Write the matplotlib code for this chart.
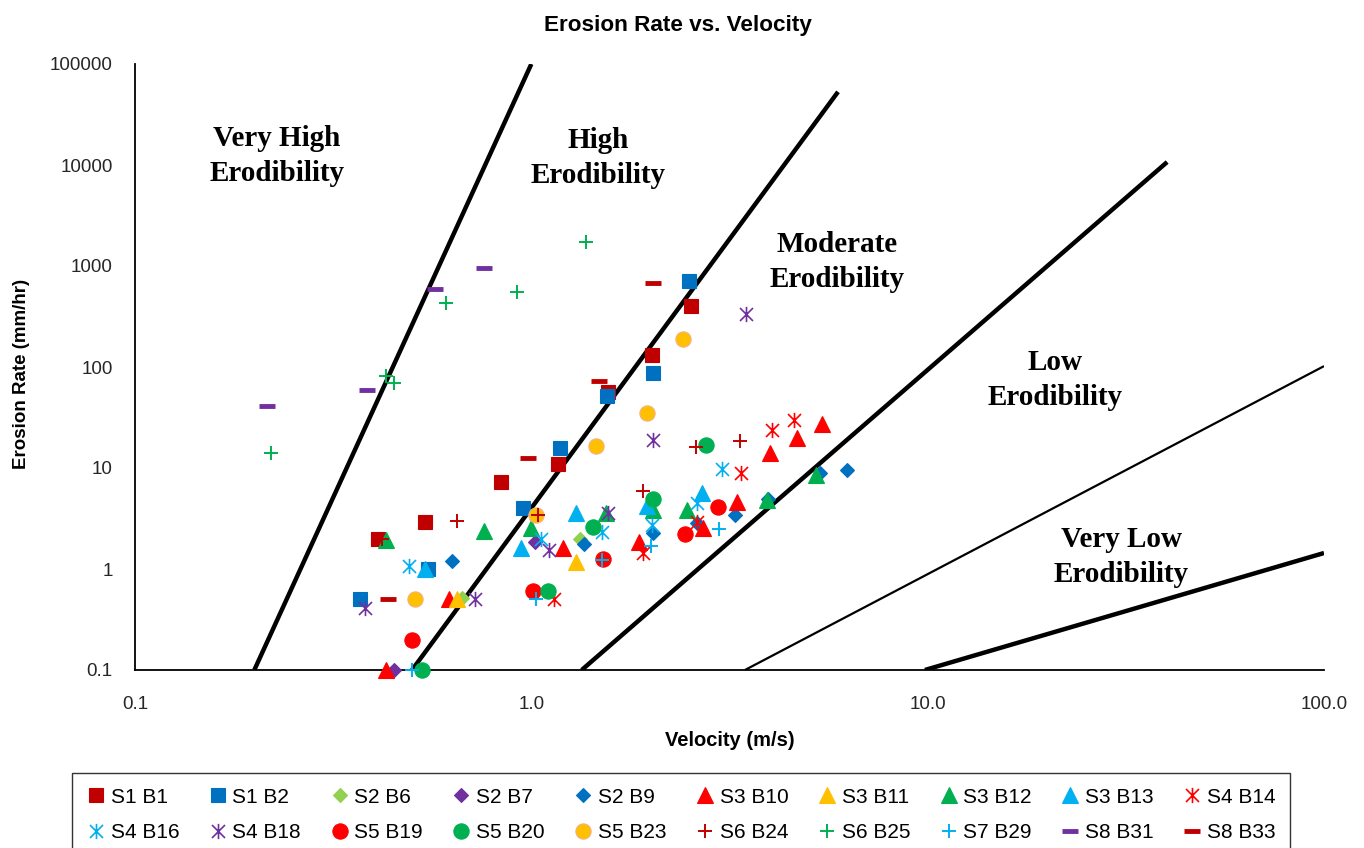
import matplotlib
matplotlib.use("Agg")
import matplotlib.pyplot as plt
from matplotlib.path import Path

plt.rcParams['font.family'] = ['Liberation Sans', 'DejaVu Sans']

# ---------------- data (velocity m/s, erosion rate mm/hr) ----------------
S1_B1_V = [0.41, 0.54, 0.84, 1.17, 1.56, 2.02, 2.53]
S1_B1_E = [2.0, 2.9, 7.2, 11, 56, 130, 400]
S1_B2_V = [0.37, 0.55, 0.95, 1.18, 1.55, 2.03, 2.5]
S1_B2_E = [0.5, 1.0, 4.0, 15.8, 52, 87, 710]
S2_B6_V = [0.67, 1.33]
S2_B6_E = [0.52, 2.0]
S2_B7_V = [0.45, 1.02]
S2_B7_E = [0.1, 1.85]
S2_B9_V = [0.63, 1.36, 2.03, 2.62, 3.27, 3.95, 5.35, 6.26]
S2_B9_E = [1.2, 1.75, 2.25, 2.85, 3.45, 4.9, 8.9, 9.5]
S3_B10_V = [0.43, 0.62, 1.2, 1.87, 2.71, 3.3, 4.0, 4.68, 5.4]
S3_B10_E = [0.1, 0.5, 1.6, 1.85, 2.55, 4.6, 14, 20, 27]
S3_B11_V = [0.65, 1.3]
S3_B11_E = [0.5, 1.17]
S3_B12_V = [0.43, 0.76, 1.0, 1.54, 2.03, 2.47, 3.94, 5.23]
S3_B12_E = [1.95, 2.4, 2.55, 3.6, 3.8, 3.85, 4.8, 8.5]
S3_B13_V = [0.54, 0.94, 1.3, 1.96, 2.7]
S3_B13_E = [1.0, 1.6, 3.6, 4.2, 5.6]
S4_B14_V = [1.14, 1.91, 2.62, 3.38, 4.05, 4.6]
S4_B14_E = [0.5, 1.45, 2.9, 8.9, 24, 30]
S4_B16_V = [0.49, 1.06, 1.51, 2.02, 2.62, 3.03]
S4_B16_E = [1.07, 2.0, 2.3, 2.7, 4.5, 9.8]
S4_B18_V = [0.38, 0.72, 1.11, 1.56, 2.03, 3.48]
S4_B18_E = [0.41, 0.5, 1.55, 3.6, 19, 335]
S5_B19_V = [0.5, 1.01, 1.52, 2.44, 2.96]
S5_B19_E = [0.2, 0.6, 1.25, 2.2, 4.1]
S5_B20_V = [0.53, 1.1, 1.43, 2.03, 2.76]
S5_B20_E = [0.1, 0.6, 2.6, 4.9, 17]
S5_B23_V = [0.51, 1.03, 1.46, 1.96, 2.42]
S5_B23_E = [0.5, 3.45, 16.5, 35, 190]
S6_B24_V = [0.42, 0.65, 1.04, 1.91, 2.6, 3.36]
S6_B24_E = [2.0, 3.0, 3.45, 5.9, 16, 18.5]
S6_B25_V = [0.22, 0.43, 0.45, 0.61, 0.92, 1.37]
S6_B25_E = [14, 81, 70, 430, 550, 1730]
S7_B29_V = [0.5, 1.03, 1.51, 2.0, 2.98]
S7_B29_E = [0.1, 0.5, 1.23, 1.7, 2.5]
S8_B31_V = [0.215, 0.385, 0.57, 0.76]
S8_B31_E = [41, 59, 590, 950]
S8_B33_V = [0.435, 0.98, 1.48, 2.03]
S8_B33_E = [0.5, 12.6, 72, 680]

SERIES_NAMES = ["S1 B1", "S1 B2", "S2 B6", "S2 B7", "S2 B9", "S3 B10", "S3 B11",
                "S3 B12", "S3 B13", "S4 B14", "S4 B16", "S4 B18", "S5 B19", "S5 B20",
                "S5 B23", "S6 B24", "S6 B25", "S7 B29", "S8 B31", "S8 B33"]
SERIES_V = [S1_B1_V, S1_B2_V, S2_B6_V, S2_B7_V, S2_B9_V, S3_B10_V, S3_B11_V,
            S3_B12_V, S3_B13_V, S4_B14_V, S4_B16_V, S4_B18_V, S5_B19_V, S5_B20_V,
            S5_B23_V, S6_B24_V, S6_B25_V, S7_B29_V, S8_B31_V, S8_B33_V]
SERIES_E = [S1_B1_E, S1_B2_E, S2_B6_E, S2_B7_E, S2_B9_E, S3_B10_E, S3_B11_E,
            S3_B12_E, S3_B13_E, S4_B14_E, S4_B16_E, S4_B18_E, S5_B19_E, S5_B20_E,
            S5_B23_E, S6_B24_E, S6_B25_E, S7_B29_E, S8_B31_E, S8_B33_E]

# erodibility zone boundary lines (end points)
BOUNDARY_V = [[0.2, 1.0], [0.5, 5.94], [1.34, 40.2], [3.46, 100.0], [9.84, 100.0]]
BOUNDARY_E = [[0.1, 1e5], [0.1, 5.3e4], [0.1, 1.07e4], [0.1, 102.0], [0.1, 1.44]]

ZONE_LABELS = ["Very High\nErodibility", "High\nErodibility", "Moderate\nErodibility",
               "Low\nErodibility", "Very Low\nErodibility"]

Y_TICKS = [0.1, 1, 10, 100, 1000, 10000, 100000]
Y_TICK_LABELS = ["0.1", "1", "10", "100", "1000", "10000", "100000"]
X_TICKS = [0.1, 1, 10, 100]
X_TICK_LABELS = ["0.1", "1.0", "10.0", "100.0"]

# ---------------- styles ----------------
star = Path([(0, -1), (0, 1), (-0.85, -0.85), (0.85, 0.85), (-0.85, 0.85), (0.85, -0.85)],
            [Path.MOVETO, Path.LINETO, Path.MOVETO, Path.LINETO, Path.MOVETO, Path.LINETO])

DRED, BLUE, LGREEN, PURPLE = "#C00000", "#0070C0", "#92D050", "#7030A0"
RED, GOLD, GREEN, CYAN = "#FF0000", "#FFC000", "#00B050", "#00B0F0"

def filled(m, c, s, ec=None):
    return dict(marker=m, markersize=s, markerfacecolor=c,
                markeredgecolor=ec if ec else c, markeredgewidth=0.8)

def lined(m, c, s, w):
    return dict(marker=m, markersize=s, markerfacecolor='none',
                markeredgecolor=c, markeredgewidth=w)

STYLES = [
    filled('s', DRED, 10.5), filled('s', BLUE, 10.5),
    filled('D', LGREEN, 7.6), filled('D', PURPLE, 7.6), filled('D', BLUE, 7.6),
    filled('^', RED, 11.5), filled('^', GOLD, 11.5), filled('^', GREEN, 11.5), filled('^', CYAN, 11.5),
    lined(star, RED, 11, 1.2), lined(star, CYAN, 11, 1.2), lined(star, PURPLE, 11, 1.2),
    filled('o', RED, 11), filled('o', GREEN, 11), filled('o', GOLD, 11, ec="#F4B183"),
    lined('+', DRED, 10.5, 1.4), lined('+', GREEN, 10.5, 1.4), lined('+', CYAN, 10.5, 1.4),
    lined('_', PURPLE, 12, 3.5), lined('_', DRED, 12, 3.5),
]

BOUNDARY_LW = [3.2, 3.2, 3.2, 1.6, 3.2]
ZONE_POS = [(0.1194, 0.848), (0.3894, 0.845), (0.5904, 0.673), (0.7738, 0.4785), (0.8293, 0.1864)]

# ---------------- figure ----------------
W, H = 1364, 848
fig = plt.figure(figsize=(W / 100, H / 100), dpi=100)
ax = fig.add_axes([135 / W, 1 - 670 / H, 1189 / W, 606 / H])
ax.set_xscale('log')
ax.set_yscale('log')
ax.set_xlim(0.1, 100)
ax.set_ylim(0.1, 1e5)

for bv, be, lw in zip(BOUNDARY_V, BOUNDARY_E, BOUNDARY_LW):
    ax.plot(bv, be, color='black', lw=lw, solid_capstyle='butt', zorder=2)

handles = []
for name, v, e, st in zip(SERIES_NAMES, SERIES_V, SERIES_E, STYLES):
    h, = ax.plot(v, e, linestyle='none', label=name, zorder=3, clip_on=False, **st)
    handles.append(h)

for txt, (px, py) in zip(ZONE_LABELS, ZONE_POS):
    ax.text(px, py, txt, transform=ax.transAxes, ha='center', va='center',
            fontsize=21, fontweight='bold', family=['Liberation Serif', 'DejaVu Serif'],
            linespacing=1.36)

ax.set_xticks(X_TICKS)
ax.set_xticklabels(X_TICK_LABELS)
ax.set_yticks(Y_TICKS)
ax.set_yticklabels(Y_TICK_LABELS)
ax.minorticks_off()
ax.tick_params(axis='both', length=0, labelsize=13.5, colors='#262626')
ax.tick_params(axis='y', pad=16)
ax.tick_params(axis='x', pad=19)
for s in ['top', 'right']:
    ax.spines[s].set_visible(False)
for s in ['left', 'bottom']:
    ax.spines[s].set_linewidth(1.3)
    ax.spines[s].set_color('black')

fig.text(678 / W, 1 - 25 / H, "Erosion Rate vs. Velocity", ha='center', va='center',
         fontsize=16.2, fontweight='bold')
fig.text(730 / W, 1 - 740 / H, "Velocity (m/s)", ha='center', va='center',
         fontsize=14.5, fontweight='bold')
fig.text(22 / W, 1 - 374 / H, "Erosion Rate (mm/hr)", ha='center', va='center',
         rotation=90, fontsize=13.5, fontweight='bold')

# legend filled row by row (matplotlib fills columns first)
NCOL = 10
order = [r * NCOL + c for c in range(NCOL) for r in range(2)]
leg = fig.legend(handles=[handles[i] for i in order], ncol=NCOL, loc='upper left', mode='expand',
                 bbox_to_anchor=(72 / W, 1 - 773 / H, (1290 - 72) / W, 0.0),
                 bbox_transform=fig.transFigure, frameon=True, fancybox=False,
                 edgecolor='black', fontsize=15, handlelength=0.9, handletextpad=0.25,
                 borderpad=0.7, labelspacing=0.78, borderaxespad=0.0, columnspacing=0.3)
leg.get_frame().set_linewidth(1.0)

fig.savefig("out.png", dpi=100)
